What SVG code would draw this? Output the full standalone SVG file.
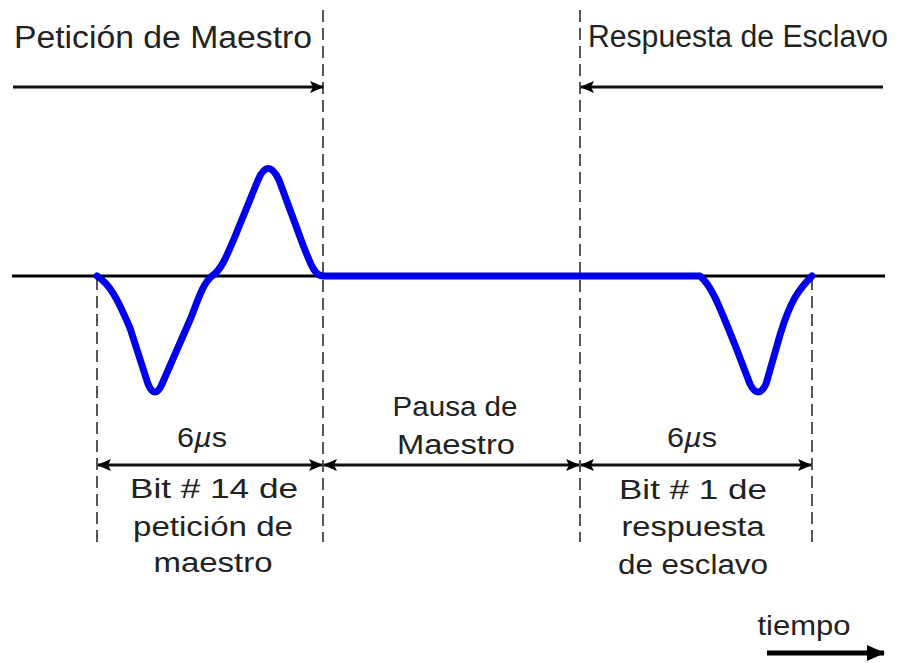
<svg xmlns="http://www.w3.org/2000/svg" width="903" height="663" viewBox="0 0 903 663">
  <style>
    .t { font-family: "Comic Sans MS", "Liberation Sans", "DejaVu Sans", sans-serif; fill: #222; }
    .big { font-size: 31px; }
    .sm { font-size: 27px; text-anchor: middle; }
    .dash { stroke: #555; stroke-width: 2; stroke-dasharray: 12 6; fill: none; }
    .ax { stroke: #000; stroke-width: 3; fill: none; }
    .dim { stroke: #111; stroke-width: 3; fill: none; }
    .wave { stroke: #0000ee; stroke-width: 7; fill: none; stroke-linejoin: round; stroke-linecap: round; }
  </style>
  <defs>
    <marker id="ah" markerUnits="userSpaceOnUse" markerWidth="14" markerHeight="14" viewBox="0 0 14 14" refX="13" refY="7" orient="auto-start-reverse">
      <path d="M0,1 L14,7 L0,13 L3,7 Z" fill="#000"/>
    </marker>
    <marker id="ahb" markerUnits="userSpaceOnUse" markerWidth="18" markerHeight="18" viewBox="0 0 18 18" refX="17" refY="9" orient="auto">
      <path d="M0,1 L18,9 L0,17 Z" fill="#000"/>
    </marker>
  </defs>
  <rect width="903" height="663" fill="#fff"/>

  <g id="guides">
    <line class="dash" x1="323" y1="10" x2="323" y2="542"/>
    <line class="dash" x1="580" y1="10" x2="580" y2="542"/>
    <line class="dash" x1="97" y1="278" x2="97" y2="542"/>
    <line class="dash" x1="812" y1="278" x2="812" y2="542"/>
  </g>

  <g id="axis">
    <line class="ax" x1="12" y1="276" x2="885" y2="276"/>
  </g>

  <g id="titles">
    <text class="t big" x="14" y="48" textLength="298" lengthAdjust="spacingAndGlyphs">Petición de Maestro</text>
    <text class="t big" x="588" y="47" textLength="300" lengthAdjust="spacingAndGlyphs">Respuesta de Esclavo</text>
  </g>

  <g id="connectors">
    <line class="dim" x1="13" y1="87" x2="323" y2="87" marker-end="url(#ah)"/>
    <line class="dim" x1="883" y1="87" x2="581" y2="87" marker-end="url(#ah)"/>
    <line class="dim" x1="98" y1="465" x2="322" y2="465" marker-start="url(#ah)" marker-end="url(#ah)"/>
    <line class="dim" x1="324" y1="465" x2="579" y2="465" marker-start="url(#ah)" marker-end="url(#ah)"/>
    <line class="dim" x1="581" y1="465" x2="811" y2="465" marker-start="url(#ah)" marker-end="url(#ah)"/>
    <line stroke="#000" stroke-width="5" x1="767" y1="653" x2="884" y2="653" marker-end="url(#ahb)"/>
  </g>

  <g id="signal">
    <path class="wave" d="M97,276 C110,284 118,300 130,328 L148,384 Q155,400 162,384 L190,320 C198,300 203,283 212,276 C221,270 226,258 236,234 L258,180 Q268,157 279,180 L303,245 C310,262 314,276 323,276 L700,276 C712,286 720,308 735,345 L750,384 Q758,400 766,384 L780,335 C790,302 798,290 812,276"/>
  </g>

  <g id="label-bit14">
    <text class="t sm" x="202" y="447" textLength="50" lengthAdjust="spacingAndGlyphs">6<tspan font-style="italic">µ</tspan>s</text>
    <text class="t sm" x="214" y="498" textLength="168" lengthAdjust="spacingAndGlyphs">Bit # 14 de</text>
    <text class="t sm" x="213" y="536" textLength="160" lengthAdjust="spacingAndGlyphs">petición de</text>
    <text class="t sm" x="213" y="572" textLength="119" lengthAdjust="spacingAndGlyphs">maestro</text>
  </g>

  <g id="label-pausa">
    <text class="t sm" x="455" y="416" textLength="125" lengthAdjust="spacingAndGlyphs">Pausa de</text>
    <text class="t sm" x="456" y="454" textLength="118" lengthAdjust="spacingAndGlyphs">Maestro</text>
  </g>

  <g id="label-bit1">
    <text class="t sm" x="692" y="447" textLength="50" lengthAdjust="spacingAndGlyphs">6<tspan font-style="italic">µ</tspan>s</text>
    <text class="t sm" x="693" y="499" textLength="148" lengthAdjust="spacingAndGlyphs">Bit # 1 de</text>
    <text class="t sm" x="693" y="536" textLength="143" lengthAdjust="spacingAndGlyphs">respuesta</text>
    <text class="t sm" x="693" y="574" textLength="150" lengthAdjust="spacingAndGlyphs">de esclavo</text>
  </g>

  <g id="label-tiempo">
    <text class="t sm" x="804" y="635" textLength="93" lengthAdjust="spacingAndGlyphs">tiempo</text>
  </g>
</svg>
